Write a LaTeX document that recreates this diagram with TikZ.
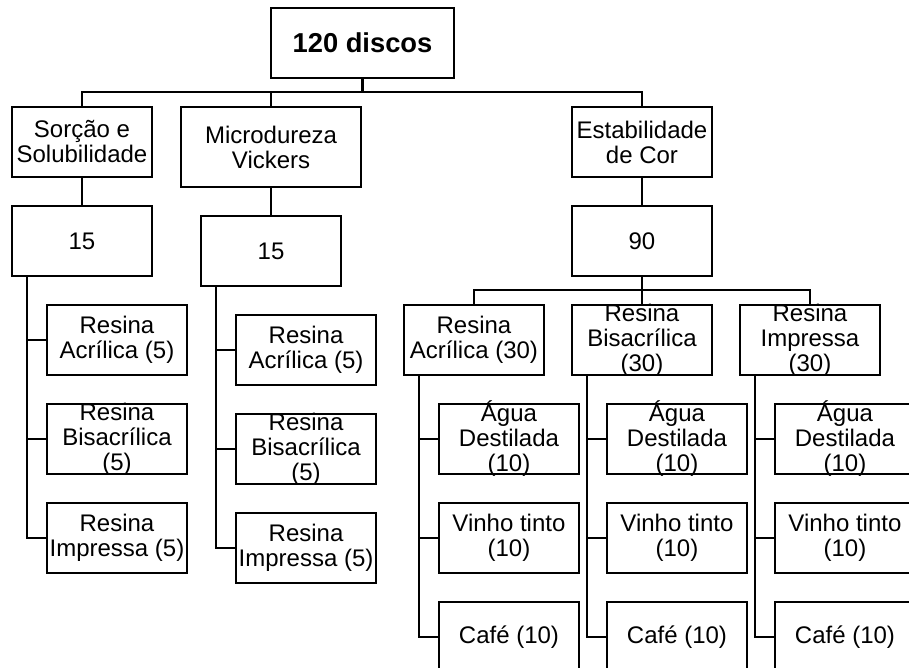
\documentclass[tikz,border=0pt]{standalone}
\usepackage{fontspec}
\setmainfont{Liberation Sans}
\usetikzlibrary{positioning}
\tikzset{
  node distance=21.75pt,
  cbox/.style={draw=black,line width=1.6pt,minimum width=105pt,
    minimum height=52.5pt,inner sep=0pt,outer sep=0pt},
  ctop/.style={cbox,minimum width=137.25pt,
    font=\fontsize{20.5}{24}\selectfont\bfseries},
  clbl/.style={align=center,inner sep=0pt,
    font=\fontsize{18}{18.75}\selectfont},
  cedge/.style={line width=1.6pt,black},
}
\begin{document}
\begin{tikzpicture}
  \useasboundingbox (-271.9pt,32.25pt) rectangle (409.9pt,-468.75pt);
  \clip (-271.9pt,32.25pt) rectangle (409.9pt,-468.75pt);
  % top and the three tests
  \node[ctop] (top) at (0,0) {120 discos};
  \node[cbox,label={[clbl]center:Sorção e\\Solubilidade},
    below=of top,xshift=-210.4pt] (sor) {};
  \node[cbox,minimum width=135pt,minimum height=60pt,
    label={[clbl]center:Microdureza\\Vickers},
    below=of top,xshift=-68.6pt] (mic) {};
  \node[cbox,label={[clbl]center:Estabilidade\\de Cor},
    below=of top,xshift=209.6pt] (est) {};
  \node[cbox,label={[clbl]center:15},below=of sor] (n15a) {};
  \node[cbox,label={[clbl]center:15},below=of mic] (n15b) {};
  \node[cbox,label={[clbl]center:90},below=of est] (n90) {};
  % sorcao e solubilidade
  \node[cbox,label={[clbl]center:Resina\\Acrílica (5)},
    below=of n15a,xshift=26.25pt] (la1) {};
  \node[cbox,label={[clbl]center:Resina\\Bisacrílica\\(5)},below=of la1] (la2) {};
  \node[cbox,label={[clbl]center:Resina\\Impressa (5)},below=of la2] (la3) {};
  % microdureza
  \node[cbox,label={[clbl]center:Resina\\Acrílica (5)},
    below=of n15b,xshift=26.25pt] (ma1) {};
  \node[cbox,label={[clbl]center:Resina\\Bisacrílica\\(5)},below=of ma1] (ma2) {};
  \node[cbox,label={[clbl]center:Resina\\Impressa (5)},below=of ma2] (ma3) {};
  % estabilidade de cor
  \node[cbox,label={[clbl]center:Resina\\Bisacrílica\\(30)},below=of n90] (rb) {};
  \node[cbox,label={[clbl]center:Resina\\Acrílica (30)},left=21pt of rb] (ra) {};
  \node[cbox,label={[clbl]center:Resina\\Impressa\\(30)},right=21pt of rb] (rc) {};
  \foreach \r in {ra,rb,rc} {
    \node[cbox,label={[clbl]center:Água\\Destilada\\(10)},
      below=of \r,xshift=26.25pt] (\r1) {};
    \node[cbox,label={[clbl]center:Vinho tinto\\(10)},below=of \r1] (\r2) {};
    \node[cbox,label={[clbl]center:Café (10)},below=of \r2] (\r3) {};
  }
  % connectors
  \coordinate[below=10.5pt of top.south] (bus);
  \coordinate[below=10.5pt of n90.south] (rbus);
  \draw[cedge] (top) -- (top |- bus);
  \draw[cedge] (sor) |- (bus) -| (est);
  \draw[cedge] (mic) -- (mic |- bus);
  \draw[cedge] (sor) -- (n15a);
  \draw[cedge] (mic) -- (n15b);
  \draw[cedge] (est) -- (n90);
  \draw[cedge] (n90) -- (rb);
  \draw[cedge] (ra) |- (rbus) -| (rc);
  \foreach \p/\c in {n15a/la,n15b/ma,ra/ra,rb/rb,rc/rc} {
    \coordinate[left=15pt of \c1.west] (s\c);
    \draw[cedge] (\p.south -| s\c) |- (\c3.west);
    \draw[cedge] (s\c |- \c1.west) -- (\c1.west);
    \draw[cedge] (s\c |- \c2.west) -- (\c2.west);
  }
\end{tikzpicture}
\end{document}
